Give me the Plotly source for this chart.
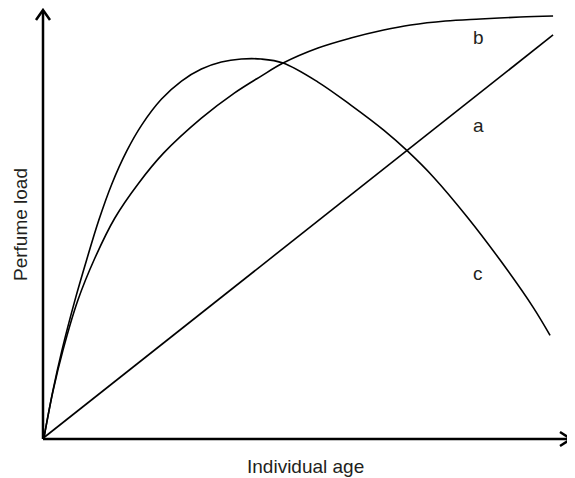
import plotly.graph_objects as go

# Curve a: linear
a_x = [0, 100]
a_y = [0, 95.5]

# Curve b: saturating
b_x = [0, 1.76, 3.72, 6.65, 9.98, 13.89, 18.59, 23.48, 30.92, 37.38, 42.66, 46.97,
       53.82, 60.27, 66.73, 72.02, 78.86, 85.71, 93.54, 100]
b_y = [0, 10.93, 20.67, 32.54, 42.52, 52.02, 60.33, 67.46, 75.77, 81.71, 85.75, 88.84,
       92.40, 94.77, 96.67, 97.86, 98.81, 99.29, 99.76, 100]

# Curve c: hump-shaped
c_x = [0, 1.76, 3.52, 6.07, 8.41, 10.76, 13.31, 16.24, 19.18, 23.09, 27.01, 30.92,
       34.83, 38.75, 42.66, 46.97, 53.82, 60.27, 66.73, 71.43, 76.52, 83.17, 89.63,
       96.09, 99.41]
c_y = [0, 11.16, 20.67, 32.54, 42.28, 51.54, 60.10, 67.93, 74.11, 80.29, 84.56, 87.41,
       89.07, 89.79, 89.79, 88.84, 84.32, 78.86, 72.92, 67.93, 61.76, 52.26, 42.04,
       30.88, 24.23]

labels = ["b", "a", "c"]
label_x = [85.3, 85.3, 85.3]
label_y = [95.0, 74.1, 39.0]

x_title = "Individual age"
y_title = "Perfume load"

OFF = 8  # page body margin
W, H = 575 - OFF, 478 - OFF
# plot area in screen pixels: x 43..572, y 10..439
L, T = 43 - OFF, 10 - OFF
R = W - (572 - OFF)
B = H - (439 - OFF)

FONT = "Liberation Sans, Arial, sans-serif"
TXT = "#231f20"

fig = go.Figure()
for xs, ys in [(a_x, a_y), (b_x, b_y), (c_x, c_y)]:
    fig.add_trace(go.Scatter(x=xs, y=ys, mode="lines",
                             line=dict(color="black", width=1.6, shape="spline", smoothing=1.0),
                             hoverinfo="skip", showlegend=False))

for t, x, y in zip(labels, label_x, label_y):
    fig.add_annotation(x=x, y=y, xref="x", yref="y", text=t, showarrow=False,
                       font=dict(size=19, color=TXT, family=FONT))

pw = W - L - R
ph = H - T - B
def px(sx):
    return (sx - OFF - L) / pw
def py(sy):
    return (H - B - (sy - OFF)) / ph

fig.add_annotation(x=px(305), y=py(466), xref="paper", yref="paper", text=x_title, showarrow=False,
                   xanchor="center", yanchor="middle",
                   font=dict(size=19, color=TXT, family=FONT))
fig.add_annotation(x=px(20), y=py(225), xref="paper", yref="paper", text=y_title, showarrow=False,
                   textangle=-90, xanchor="center", yanchor="middle",
                   font=dict(size=19, color=TXT, family=FONT))

axis_line = dict(color="black", width=2.5)
# y axis
fig.add_shape(type="line", xref="paper", yref="paper", x0=0, y0=0, x1=0, y1=py(11), line=axis_line)
fig.add_shape(type="path", xref="paper", yref="paper",
              path=f"M {px(36)} {py(20)} L {px(43)} {py(10)} L {px(50)} {py(20)}", line=axis_line)
# x axis
fig.add_shape(type="line", xref="paper", yref="paper", x0=0, y0=0, x1=px(570), y1=0, line=axis_line)
fig.add_shape(type="path", xref="paper", yref="paper",
              path=f"M {px(560)} {py(432)} L {px(571)} {py(439)} L {px(560)} {py(446)}", line=axis_line)

# data: x=0 at screen 42, x=100 at 553 ; y=0 at 437.5, y=100 at 16
xs_per_px = 100 / 511
x0 = 0 - (43 - 42) * xs_per_px
x1 = 100 + (572 - 553) * xs_per_px
ys_per_px = 100 / 421.5
y0 = 0 - (439 - 437.5) * ys_per_px
y1 = 100 + (16 - 10) * ys_per_px

fig.update_layout(
    width=W, height=H,
    margin=dict(l=L, r=R, t=T, b=B, pad=0),
    paper_bgcolor="white", plot_bgcolor="white",
    xaxis=dict(range=[x0, x1], visible=False, fixedrange=True),
    yaxis=dict(range=[y0, y1], visible=False, fixedrange=True),
    showlegend=False,
)

fig.write_html("out.html")
